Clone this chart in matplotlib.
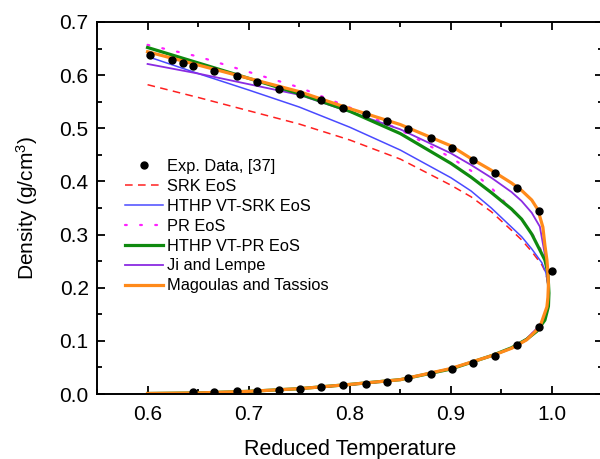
import matplotlib
matplotlib.use('Agg')
import matplotlib.pyplot as plt
from matplotlib.ticker import MultipleLocator

plt.rcParams['font.family'] = 'Liberation Sans'
plt.rcParams['mathtext.fontset'] = 'custom'
plt.rcParams['mathtext.rm'] = 'Liberation Sans'
plt.rcParams['mathtext.it'] = 'Liberation Sans:italic'

# experimental data, liquid and vapour branch
exp_T_liq = [0.602, 0.624, 0.635, 0.645, 0.666, 0.688, 0.708, 0.730, 0.751, 0.772,
             0.793, 0.816, 0.837, 0.858, 0.880, 0.901, 0.922, 0.944, 0.965, 0.987, 1.000]
exp_rho_liq = [0.638, 0.629, 0.623, 0.618, 0.608, 0.599, 0.588, 0.574, 0.564, 0.554,
               0.539, 0.527, 0.514, 0.499, 0.482, 0.463, 0.441, 0.416, 0.388, 0.345, 0.232]
exp_T_vap = [0.645, 0.666, 0.688, 0.708, 0.730, 0.751, 0.772, 0.793, 0.816, 0.837,
             0.858, 0.880, 0.901, 0.922, 0.944, 0.965, 0.987]
exp_rho_vap = [0.004, 0.004, 0.005, 0.006, 0.008, 0.009, 0.013, 0.017, 0.019, 0.023,
               0.030, 0.038, 0.047, 0.058, 0.072, 0.092, 0.126]

# liquid branches
T_liq = [0.60, 0.65, 0.70, 0.75, 0.80, 0.85, 0.90, 0.92, 0.94, 0.96, 0.97, 0.98, 0.99, 0.994, 0.9965]
srk_liq = [0.582, 0.558, 0.533, 0.508, 0.478, 0.442, 0.393, 0.371, 0.343, 0.308, 0.290, 0.268, 0.243, 0.228, 0.200]
vtsrk_liq = [0.635, 0.603, 0.572, 0.540, 0.502, 0.459, 0.407, 0.382, 0.350, 0.314, 0.296, 0.273, 0.247, 0.228, 0.200]

T_liq2 = [0.60, 0.65, 0.70, 0.75, 0.80, 0.85, 0.90, 0.92, 0.94, 0.96, 0.97, 0.98, 0.988, 0.993, 0.995, 0.9965]
pr_liq = [0.657, 0.635, 0.606, 0.577, 0.539, 0.497, 0.445, 0.420, 0.388, 0.347, 0.328, 0.303, 0.275, 0.255, 0.235, 0.200]
ji_liq = [0.621, 0.603, 0.583, 0.563, 0.531, 0.498, 0.453, 0.431, 0.407, 0.380, 0.363, 0.341, 0.315, 0.262, 0.235, 0.200]

T_vtpr_liq = [0.60, 0.65, 0.70, 0.75, 0.80, 0.85, 0.90, 0.92, 0.94, 0.96, 0.97, 0.98, 0.988, 0.993, 0.996, 0.997]
vtpr_liq = [0.652, 0.623, 0.594, 0.565, 0.532, 0.490, 0.434, 0.408, 0.379, 0.348, 0.329, 0.301, 0.271, 0.252, 0.228, 0.190]

T_mt_liq = [0.60, 0.65, 0.70, 0.75, 0.80, 0.85, 0.90, 0.92, 0.94, 0.96, 0.97, 0.98, 0.986, 0.991, 0.993, 0.995, 0.996, 0.9965]
mt_liq = [0.644, 0.619, 0.594, 0.569, 0.537, 0.507, 0.467, 0.443, 0.421, 0.397, 0.383, 0.365, 0.347, 0.314, 0.280, 0.252, 0.228, 0.205]

# vapour branches
T_vap = [0.9965, 0.995, 0.99, 0.985, 0.975, 0.96, 0.94, 0.90, 0.85, 0.80, 0.75, 0.70, 0.65, 0.60]
thin_vap = [0.175, 0.155, 0.135, 0.123, 0.104, 0.087, 0.072, 0.047, 0.027, 0.017, 0.010, 0.005, 0.002, 0.001]
T_vtpr_vap = [0.9965, 0.993, 0.985, 0.975, 0.96, 0.94, 0.90, 0.85, 0.80, 0.75, 0.70, 0.65, 0.60]
vtpr_vap = [0.165, 0.139, 0.118, 0.103, 0.087, 0.072, 0.047, 0.027, 0.018, 0.010, 0.005, 0.002, 0.001]
T_mt_vap = [0.996, 0.995, 0.988, 0.975, 0.96, 0.942, 0.90, 0.85, 0.80, 0.75, 0.70, 0.65, 0.60]
mt_vap = [0.182, 0.164, 0.126, 0.102, 0.086, 0.073, 0.048, 0.027, 0.018, 0.010, 0.005, 0.002, 0.001]

fig = plt.figure(figsize=(6, 4.59), dpi=100)
ax = fig.add_axes([0.1617, 0.1416, 0.8425, 0.8105])

h_srk, = ax.plot(T_liq + T_vap, srk_liq + thin_vap, color='#ff2020', lw=1.1, dashes=(5, 3.5))
h_vtsrk, = ax.plot(T_liq + T_vap, vtsrk_liq + thin_vap, color='#4a4aff', lw=1.1)
h_pr, = ax.plot(T_liq2 + T_vap, pr_liq + thin_vap, color='#ff20ff', lw=1.6, dashes=(0.8, 6), dash_capstyle='round')
h_ji, = ax.plot(T_liq2 + T_vap, ji_liq + thin_vap, color='#8a2be2', lw=1.3)
h_vtpr, = ax.plot(T_vtpr_liq + T_vtpr_vap, vtpr_liq + vtpr_vap, color='#0f8a0f', lw=2.3)
h_mt, = ax.plot(T_mt_liq + T_mt_vap, mt_liq + mt_vap, color='#ff8a1a', lw=2.3)
h_exp, = ax.plot(exp_T_liq + exp_T_vap, exp_rho_liq + exp_rho_vap, 'o', color='black', ms=5, zorder=5)

ax.set_xlim(0.55, 1.05)
ax.set_ylim(0.0, 0.7)
ax.xaxis.set_major_locator(MultipleLocator(0.1))
ax.xaxis.set_minor_locator(MultipleLocator(0.05))
ax.yaxis.set_major_locator(MultipleLocator(0.1))
ax.yaxis.set_minor_locator(MultipleLocator(0.05))
ax.xaxis.set_major_formatter(plt.FormatStrFormatter('%.1f'))
ax.yaxis.set_major_formatter(plt.FormatStrFormatter('%.1f'))
ax.tick_params(which='both', direction='in', top=True, right=True, width=1.3, labelsize=15)
ax.tick_params(which='major', length=6)
ax.tick_params(which='minor', length=3.5)
ax.tick_params(axis='x', pad=8)
ax.tick_params(axis='y', pad=6)
for s in ax.spines.values():
    s.set_linewidth(1.4)

ax.set_xlabel('Reduced Temperature', fontsize=15.5, labelpad=11)
ax.set_ylabel('Density (g/cm$^3$)', fontsize=15, labelpad=14)

handles = [h_exp, h_srk, h_vtsrk, h_pr, h_vtpr, h_ji, h_mt]
labels = ['Exp. Data, [37]', 'SRK EoS', 'HTHP VT-SRK EoS', 'PR EoS', 'HTHP VT-PR EoS',
          'Ji and Lempe', 'Magoulas and Tassios']
ax.legend(handles, labels, loc='upper left', bbox_to_anchor=(0.055, 0.632), frameon=False,
          fontsize=11.8, handlelength=2.3, handletextpad=0.3, labelspacing=0.3,
          borderaxespad=0, borderpad=0)

fig.savefig('out.png', dpi=100)
